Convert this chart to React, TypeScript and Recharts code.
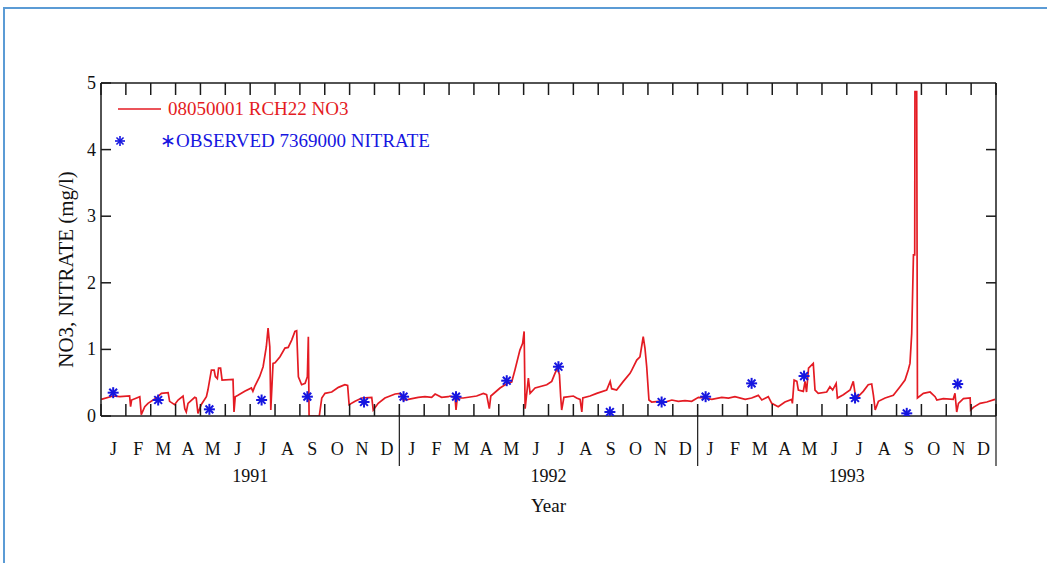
import React from 'react';
import { ComposedChart, Line, Scatter, XAxis, YAxis, Legend } from 'recharts';

// ---- data ----
const MONTH_LABELS = ['J', 'F', 'M', 'A', 'M', 'J', 'J', 'A', 'S', 'O', 'N', 'D'];
const YEAR_LABELS = ['1991', '1992', '1993'];
const Y_TICKS = [0, 1, 2, 3, 4, 5];

// simulated NO3 (x = months since Jan 1991)
const SIM_MONTHS = [
  0.01, 0.48, 0.76, 1.15, 1.19, 1.23, 1.56, 1.62, 1.76, 1.89, 2.22, 2.43, 2.70, 2.76, 2.96, 3.10, 3.30, 3.37, 3.43, 3.50,
  3.77, 3.83, 3.90, 4.03, 4.24, 4.30, 4.44, 4.55, 4.60, 4.68, 4.73, 4.81, 4.87, 5.31, 5.35, 5.40, 5.51, 5.78, 6.05, 6.11,
  6.18, 6.38, 6.52, 6.65, 6.72, 6.79, 6.83, 6.92, 7.00, 7.20, 7.40, 7.53, 7.67, 7.80, 7.87, 7.94, 8.07, 8.21, 8.30, 8.34,
  8.37, 8.78, 8.88, 9.01, 9.28, 9.55, 9.81, 9.92, 9.98, 10.22, 10.49, 10.89, 10.95, 11.15, 11.42, 11.83, 12.03, 12.16, 12.36, 12.76,
  13.03, 13.30, 13.44, 13.70, 13.97, 14.04, 14.24, 14.28, 14.33, 14.57, 15.11, 15.38, 15.51, 15.62, 15.68, 16.05, 16.38, 16.52, 16.65, 16.85,
  16.96, 17.02, 17.06, 17.19, 17.26, 17.46, 17.93, 18.13, 18.26, 18.36, 18.44, 18.49, 18.53, 18.62, 19.00, 19.13, 19.27, 19.34, 19.38, 19.67,
  19.94, 20.34, 20.48, 20.54, 20.74, 21.01, 21.28, 21.35, 21.55, 21.68, 21.81, 21.88, 21.95, 22.04, 22.15, 22.42, 22.69, 22.96, 23.22, 23.49,
  23.76, 24.03, 24.30, 24.57, 24.97, 25.24, 25.50, 25.91, 26.17, 26.44, 26.58, 26.84, 26.98, 27.24, 27.51, 27.78, 27.81, 27.88, 27.99, 28.05,
  28.25, 28.32, 28.38, 28.46, 28.65, 28.72, 28.85, 29.19, 29.32, 29.43, 29.57, 29.62, 29.86, 30.13, 30.26, 30.33, 30.40, 30.66, 30.86, 31.00,
  31.07, 31.14, 31.27, 31.54, 31.87, 32.14, 32.34, 32.47, 32.54, 32.61, 32.68, 32.73, 32.74, 32.81, 32.84, 33.08, 33.35, 33.55, 33.62, 33.88,
  34.28, 34.35, 34.42, 34.49, 34.69, 34.96, 34.98, 35.09, 35.36, 35.63, 35.96,
];
const SIM_VALUES = [
  0.25, 0.30, 0.29, 0.30, 0.14, 0.24, 0.29, 0.02, 0.14, 0.19, 0.27, 0.34, 0.35, 0.22, 0.17, 0.24, 0.30, 0.11, 0.06, 0.19,
  0.28, 0.27, 0.04, 0.17, 0.29, 0.39, 0.69, 0.69, 0.59, 0.56, 0.72, 0.72, 0.54, 0.55, 0.06, 0.29, 0.31, 0.37, 0.42, 0.37,
  0.44, 0.59, 0.74, 1.04, 1.32, 1.04, 0.09, 0.79, 0.80, 0.89, 1.02, 1.03, 1.14, 1.27, 1.28, 0.59, 0.47, 0.49, 0.59, 1.19,
  0.00, 0.00, 0.27, 0.34, 0.36, 0.43, 0.47, 0.46, 0.17, 0.22, 0.27, 0.28, 0.09, 0.19, 0.27, 0.33, 0.34, 0.24, 0.25, 0.28,
  0.29, 0.28, 0.33, 0.28, 0.29, 0.30, 0.28, 0.09, 0.27, 0.27, 0.30, 0.34, 0.32, 0.11, 0.30, 0.42, 0.50, 0.51, 0.69, 0.99,
  1.09, 1.27, 0.11, 0.57, 0.34, 0.42, 0.47, 0.52, 0.64, 0.72, 0.62, 0.29, 0.09, 0.28, 0.30, 0.27, 0.25, 0.06, 0.27, 0.30,
  0.34, 0.39, 0.52, 0.41, 0.39, 0.52, 0.64, 0.69, 0.84, 0.89, 1.19, 1.02, 0.74, 0.24, 0.21, 0.22, 0.21, 0.24, 0.22, 0.23,
  0.22, 0.28, 0.27, 0.25, 0.28, 0.27, 0.29, 0.25, 0.27, 0.31, 0.24, 0.29, 0.19, 0.14, 0.21, 0.25, 0.19, 0.54, 0.52, 0.39,
  0.37, 0.52, 0.36, 0.72, 0.79, 0.39, 0.34, 0.36, 0.44, 0.39, 0.49, 0.27, 0.32, 0.39, 0.52, 0.34, 0.27, 0.37, 0.47, 0.48,
  0.31, 0.09, 0.22, 0.27, 0.31, 0.44, 0.54, 0.69, 0.79, 1.24, 2.42, 2.42, 4.87, 4.87, 0.27, 0.34, 0.36, 0.29, 0.24, 0.26,
  0.25, 0.34, 0.06, 0.19, 0.26, 0.27, 0.09, 0.13, 0.19, 0.21, 0.25,
];

// observed nitrate
const OBS_MONTHS = [0.49, 2.30, 4.36, 6.46, 8.30, 10.58, 12.17, 14.28, 16.32, 18.40, 20.47, 22.55, 24.32, 26.17, 28.28, 30.33, 32.41, 34.46];
const OBS_VALUES = [0.35, 0.24, 0.10, 0.24, 0.29, 0.21, 0.29, 0.29, 0.53, 0.74, 0.06, 0.21, 0.29, 0.49, 0.60, 0.27, 0.04, 0.48];

const SIM_NAME = '08050001 RCH22 NO3';
const OBS_NAME = '\u2217OBSERVED 7369000 NITRATE';

const simData = SIM_MONTHS.map((m, i) => ({ m, v: SIM_VALUES[i] }));
const obsData = OBS_MONTHS.map((m, i) => ({ m, v: OBS_VALUES[i] }));

const MONTH_BOUNDS = Array.from({ length: 37 }, (_, i) => i);
const MONTH_CENTERS = Array.from({ length: 36 }, (_, i) => i + 0.5);

const RED = '#e41b23';
const BLUE = '#1616e0';
const AXIS = '#1a1a1a';
const FONT = '"Liberation Serif", "Times New Roman", serif';

const Asterisk = ({ cx, cy, r = 5.5, w = 2 }: any) => {
  const d = r * 0.707;
  return (
    <g stroke={BLUE} strokeWidth={w}>
      <line x1={cx - r} x2={cx + r} y1={cy} y2={cy} />
      <line x1={cx} x2={cx} y1={cy - r} y2={cy + r} />
      <line x1={cx - d} x2={cx + d} y1={cy - d} y2={cy + d} />
      <line x1={cx - d} x2={cx + d} y1={cy + d} y2={cy - d} />
    </g>
  );
};

const BottomTick = (props: any) => {
  const { x, y, payload } = props;
  const v = payload.value;
  if (Number.isInteger(v)) {
    return (
      <g>
        <line x1={x} x2={x} y1={y} y2={y - 12} stroke={AXIS} strokeWidth={1.5} />
        {v % 12 === 0 && v > 0 && <line x1={x} x2={x} y1={y} y2={y + 50} stroke={AXIS} strokeWidth={1.2} />}
        {v % 12 === 6 && (
          <text x={x} y={y + 66} textAnchor="middle" fontSize={18} fontFamily={FONT} fill="#111">
            {YEAR_LABELS[(v - 6) / 12]}
          </text>
        )}
      </g>
    );
  }
  return (
    <text x={x} y={y + 39} textAnchor="middle" fontSize={18} fontFamily={FONT} fill="#111">
      {MONTH_LABELS[Math.floor(v) % 12]}
    </text>
  );
};

const TopTick = (props: any) => {
  const { x, y } = props;
  return <line x1={x} x2={x} y1={y} y2={y + 12} stroke={AXIS} strokeWidth={1.5} />;
};

const LeftTick = (props: any) => {
  const { x, y, payload } = props;
  return (
    <g>
      <line x1={x} x2={x + 10} y1={y} y2={y} stroke={AXIS} strokeWidth={1.5} />
      <text x={x - 5} y={y + 6} textAnchor="end" fontSize={18} fontFamily={FONT} fill="#111">
        {payload.value}
      </text>
    </g>
  );
};

const RightTick = (props: any) => {
  const { x, y } = props;
  return <line x1={x} x2={x - 10} y1={y} y2={y} stroke={AXIS} strokeWidth={1.5} />;
};

const LegendBox = () => (
  <svg width={360} height={70} style={{ overflow: 'visible' }}>
    <line x1={8} x2={51} y1={17} y2={17} stroke={RED} strokeWidth={1.5} />
    <text x={58} y={23} fontSize={19} fontFamily={FONT} fill={RED}>{SIM_NAME}</text>
    <Asterisk cx={10} cy={49} r={5} w={1.6} />
    <text x={50} y={55} fontSize={19} fontFamily={FONT} fill={BLUE}>{OBS_NAME}</text>
  </svg>
);

export default function App() {
  return (
    <div style={{ position: 'absolute', left: 0, top: 0, width: 1047, height: 563, overflow: 'hidden', background: '#fff' }}>
      <div
        style={{
          position: 'absolute', left: 3, top: 7, width: 1200, height: 700,
          borderLeft: '2px solid #5b9bd5', borderTop: '2px solid #5b9bd5',
        }}
      />
      <div style={{ position: 'absolute', left: 0, top: 0 }}>
        <ComposedChart width={1047} height={563} margin={{ top: 73, right: 41, bottom: 117, left: 61 }}>
          <XAxis
            xAxisId="b" type="number" dataKey="m" domain={[0, 36]} ticks={[...MONTH_BOUNDS, ...MONTH_CENTERS]}
            interval={0} tickSize={0} tickMargin={0} tickLine={false} height={30}
            axisLine={{ stroke: AXIS, strokeWidth: 1.5 }} tick={<BottomTick />} allowDataOverflow
            label={(p: any) => {
              const vb = p.viewBox || { x: 101, y: 416, width: 895 };
              return (
                <text x={vb.x + vb.width / 2} y={vb.y + 96} textAnchor="middle" fontSize={19} fontFamily={FONT} fill="#111">Year</text>
              );
            }}
          />
          <XAxis
            xAxisId="t" orientation="top" type="number" dataKey="m" domain={[0, 36]} ticks={MONTH_BOUNDS}
            interval={0} tickSize={0} tickMargin={0} tickLine={false} height={10}
            axisLine={{ stroke: AXIS, strokeWidth: 1.5 }} tick={<TopTick />} allowDataOverflow
          />
          <YAxis
            yAxisId="l" type="number" domain={[0, 5]} ticks={Y_TICKS} interval={0} tickSize={0} tickMargin={0}
            tickLine={false} width={40} axisLine={{ stroke: AXIS, strokeWidth: 1.5 }} tick={<LeftTick />} allowDataOverflow
            label={(p: any) => {
              const vb = p.viewBox || { x: 61, y: 83, height: 333 };
              const cx = vb.x + 12;
              const cy = vb.y + vb.height / 2 + 20;
              return (
                <text x={cx} y={cy} transform={`rotate(-90 ${cx} ${cy})`} textAnchor="middle" fontSize={21} fontFamily={FONT} fill="#111">
                  NO3,  NITRATE (mg/l)
                </text>
              );
            }}
          />
          <YAxis
            yAxisId="r" orientation="right" type="number" domain={[0, 5]} ticks={[1, 2, 3, 4]} interval={0}
            tickSize={0} tickMargin={0} tickLine={false} width={10} axisLine={{ stroke: AXIS, strokeWidth: 1.5 }}
            tick={<RightTick />} allowDataOverflow
          />
          <Legend
            layout="vertical" align="center" verticalAlign="middle"
            wrapperStyle={{ left: 110, top: 92, width: 360, height: 70 }}
            content={() => <LegendBox />}
          />
          <Line
            xAxisId="b" yAxisId="l" data={simData} dataKey="v" name={SIM_NAME} type="linear"
            stroke={RED} strokeWidth={1.7} dot={false} activeDot={false} isAnimationActive={false}
          />
          <Scatter
            xAxisId="t" yAxisId="r" data={obsData} dataKey="v" name={OBS_NAME}
            shape={(p: any) => <Asterisk cx={p.cx} cy={p.cy} />} isAnimationActive={false}
          />
        </ComposedChart>
      </div>
    </div>
  );
}
